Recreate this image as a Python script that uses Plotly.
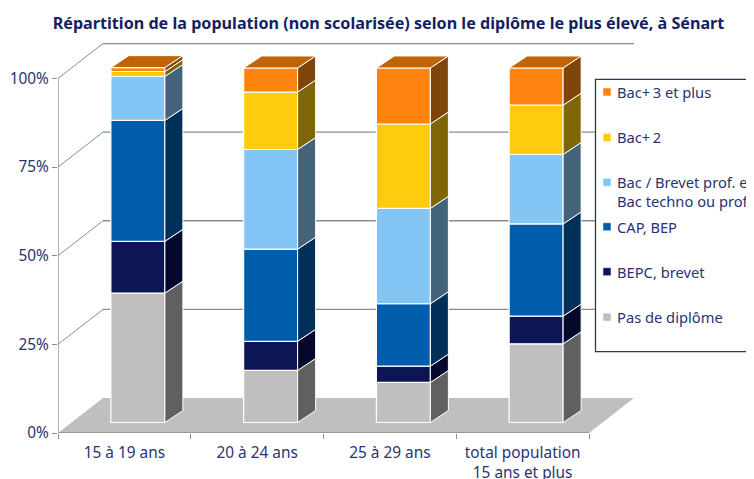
import plotly.graph_objects as go

title = "Répartition de la population (non scolarisée) selon le diplôme le plus élevé, à Sénart"
categories = ["15 à 19 ans", "20 à 24 ans", "25 à 29 ans", "total population<br>15 ans et plus"]
series_names = ["Pas de diplôme", "BEPC, brevet", "CAP, BEP",
                "Bac / Brevet prof. e<br>Bac techno ou prof", "Bac+\u20092", "Bac+\u20093 et plus"]
pas_de_diplome = [36.5, 14.7, 11.3, 22.2]
bepc = [14.6, 8.2, 4.6, 7.8]
cap_bep = [34.1, 26.0, 17.6, 26.0]
bac = [12.4, 28.1, 26.9, 19.6]
bac2 = [1.4, 16.2, 23.8, 13.9]
bac3 = [1.1, 6.8, 15.8, 10.5]
values = [pas_de_diplome, bepc, cap_bep, bac, bac2, bac3]
front_colors = ["#bfbfbf", "#0c1654", "#005dab", "#83c6f6", "#ffcb0c", "#ff840f"]
side_colors = ["#606060", "#05082c", "#003058", "#43637a", "#7f6505", "#7f4408"]
top_color = "#bf6508"
navy = "#2a3372"
gray = "#8c8c8c"

# pixel geometry -> data units (the page body adds 8 px on the left and top)
PAGE = 8
FIG_W, FIG_H = 754 - PAGE, 479 - PAGE
PX_X = 132.75
PX_Y = 3.55
L, T, W, H = 58 - PAGE, 42.5 - PAGE, 576, 390.5
xr = [-0.5, -0.5 + W / PX_X]
yr = [0, H / PX_Y]
wall_x, wall_y = 45 / PX_X, 35 / PX_Y
off_x, off_y = 13.5 / PX_X, 10.5 / PX_Y
dep_x, dep_y = 18 / PX_X, 12 / PX_Y
bar_w = 54 / PX_X
xpos = list(range(len(categories)))

fig = go.Figure()

# floor and walls
shapes = [dict(type="path", layer="below", xref="x", yref="y", fillcolor="#bfbfbf", line=dict(width=0),
               path=f"M {xr[0]} 0 L {xr[0]+wall_x} {wall_y} L {xr[1]} {wall_y} L {xr[1]-wall_x} 0 Z")]
for t in [25, 50, 75, 100]:
    shapes.append(dict(type="line", layer="below", xref="x", yref="y", x0=xr[0], y0=t,
                       x1=xr[0] + wall_x, y1=t + wall_y, line=dict(color=gray, width=1)))
    shapes.append(dict(type="line", layer="below", xref="x", yref="y", x0=xr[0] + wall_x, y0=t + wall_y,
                       x1=xr[1], y1=t + wall_y, line=dict(color=gray, width=1.3)))
shapes.append(dict(type="line", layer="below", xref="x", yref="y", x0=xr[0], y0=0, x1=xr[0], y1=100,
                   line=dict(color=gray, width=1.3)))
shapes.append(dict(type="line", layer="below", xref="x", yref="y", x0=xr[0], y0=0, x1=3.5, y1=0,
                   line=dict(color=gray, width=1.3)))

# stacked front faces and side faces
cum = [0.0] * len(categories)
for name, vals, fc, sc in zip(series_names, values, front_colors, side_colors):
    fig.add_trace(go.Bar(x=[i + off_x for i in xpos], y=vals, base=[c + off_y for c in cum], width=bar_w,
                         name=name.replace("<br>", " "), showlegend=False,
                         marker=dict(color=fc, line=dict(color="white", width=1.2))))
    sx, sy = [], []
    for i, v, c in zip(xpos, vals, cum):
        x0 = i + off_x + bar_w / 2
        lo, hi = c + off_y, c + v + off_y
        sx += [x0, x0 + dep_x, x0 + dep_x, x0, x0, None]
        sy += [lo, lo + dep_y, hi + dep_y, hi, lo, None]
    fig.add_trace(go.Scatter(x=sx, y=sy, mode="lines", fill="toself", fillcolor=sc, showlegend=False,
                             line=dict(color="white", width=1), hoverinfo="skip", cliponaxis=False))
    cum = [c + v for c, v in zip(cum, vals)]

tx, ty = [], []
for i, c in zip(xpos, cum):
    x0 = i + off_x - bar_w / 2
    h = c + off_y
    tx += [x0, x0 + bar_w, x0 + bar_w + dep_x, x0 + dep_x, x0, None]
    ty += [h, h, h + dep_y, h + dep_y, h, None]
fig.add_trace(go.Scatter(x=tx, y=ty, mode="lines", fill="toself", fillcolor=top_color, showlegend=False,
                         line=dict(color="white", width=1), hoverinfo="skip", cliponaxis=False))
# carries the tick marks on the slot boundaries
fig.add_trace(go.Scatter(x=[xr[0]], y=[0], xaxis="x2", mode="markers", marker=dict(opacity=0), showlegend=False,
                         hoverinfo="skip"))


def px(xp):
    return (xp - PAGE - L) / W


def py(yp):
    return (T + H - (yp - PAGE)) / H


# legend box
box_l, box_t, box_b = 595.5, 79, 351.5
shapes.append(dict(type="rect", layer="above", xref="paper", yref="paper", x0=px(box_l), x1=px(box_l + 300),
                   y0=py(box_b), y1=py(box_t), fillcolor="white", line=dict(color=navy, width=1.3)))
annotations = []
legend_y = [317, 271.5, 226.5, 182, 137, 91.5]
for name, fc, y in zip(series_names, front_colors, legend_y):
    shapes.append(dict(type="rect", layer="above", xref="paper", yref="paper", x0=px(603), x1=px(611),
                       y0=py(y + 4), y1=py(y - 4), fillcolor=fc, line=dict(color="white", width=0.5)))
    two = "<br>" in name
    annotations.append(dict(text=name, xref="paper", yref="paper", x=px(617), y=py(y - 10 if two else y),
                            xanchor="left", yanchor="top" if two else "middle", align="left", showarrow=False,
                            font=dict(size=14.7, color=navy), borderpad=0, borderwidth=0))

fig.update_layout(
    width=FIG_W, height=FIG_H,
    margin=dict(l=L, r=FIG_W - L - W, t=T, b=FIG_H - T - H, autoexpand=False),
    paper_bgcolor="white", plot_bgcolor="white", barmode="overlay", showlegend=False,
    font=dict(family="Noto Sans, Open Sans, sans-serif", color=navy, size=14),
    title=dict(text=f"<b>{title}</b>", x=(388.5 - PAGE) / FIG_W, xanchor="center", y=1 - (23 - PAGE) / FIG_H,
               yanchor="middle", font=dict(size=16.15, color="#141f5f")),
    xaxis=dict(range=xr, tickmode="array", tickvals=xpos, ticktext=categories, ticks="", showgrid=False,
               zeroline=False, showline=False, fixedrange=True, ticklabelstandoff=9,
               tickfont=dict(size=15.4, color=navy)),
    xaxis2=dict(range=xr, overlaying="x", anchor="y", side="bottom", tickmode="array",
                tickvals=[-0.5, 0.5, 1.5, 2.5, 3.5], showticklabels=False, ticks="outside", ticklen=5,
                tickcolor=gray, tickwidth=1.3, showgrid=False, zeroline=False, showline=False),
    yaxis=dict(range=yr, tickmode="array", tickvals=[0, 25, 50, 75, 100],
               ticktext=["0%", "25%", "50%", "75%", "100%"], ticks="outside", ticklen=5, tickcolor=gray,
               tickwidth=1.3, showgrid=False, zeroline=False, showline=False, tickfont=dict(size=15.4, color=navy)),
    shapes=shapes, annotations=annotations,
)
fig.write_html("out.html")
